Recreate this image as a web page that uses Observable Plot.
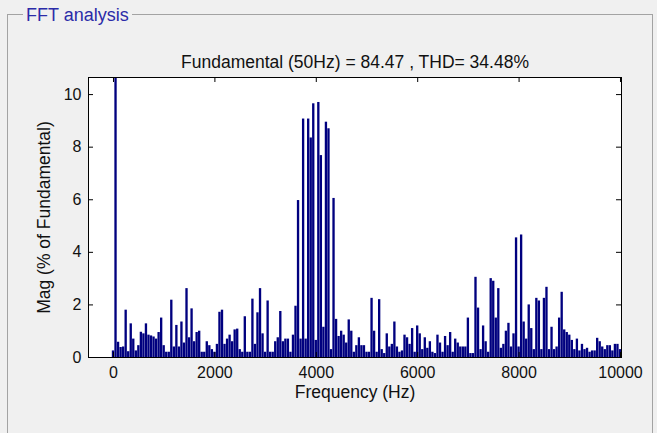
<!DOCTYPE html>
<html><head><meta charset="utf-8">
<script src="https://cdn.jsdelivr.net/npm/d3@7"></script>
<script src="https://cdn.jsdelivr.net/npm/@observablehq/plot@0.6"></script>
<style>
html,body{margin:0;padding:0;background:#f0f0f0;}
#wrap{position:relative;width:657px;height:433px;overflow:hidden;background:#f0f0f0;font-family:"Liberation Sans",Arial,sans-serif;}
#box{position:absolute;left:7px;top:14px;width:646px;height:440px;border:1px solid #a3a3a3;box-sizing:border-box;}
#legend{position:absolute;left:23px;top:5px;padding:0 3px;background:#f0f0f0;color:#2b2ba8;font-size:18px;line-height:20px;}
#chart{position:absolute;left:0;top:0;}
</style></head>
<body><div id="wrap"><div id="box"></div><div id="legend">FFT analysis</div><div id="chart"></div></div>
<script>
// Harmonic spectrum: bins every 50 Hz from 0 Hz to 10000 Hz, magnitude in % of fundamental
const binStepHz = 50;
const magnitudes = [
  0.25, 100, 0.58, 0.38, 0.4, 1.8, 0.22, 1.28, 0.7, 0.25,
  0.45, 0.96, 0.9, 1.28, 0.85, 0.82, 0.78, 0.7, 0.95, 1.5,
  0.45, 0.2, 0.2, 2.18, 0.4, 1.22, 0.4, 1.35, 0.55, 2.62,
  0.75, 1.85, 0.6, 0.95, 1.0, 0.2, 0.2, 0.6, 0.45, 0.3,
  0.2, 0.5, 1.72, 1.8, 0.5, 0.7, 0.85, 0.6, 1.05, 1.08,
  0.3, 0.2, 1.55, 0.2, 0.2, 2.22, 0.5, 1.7, 2.62, 0.9,
  0.2, 2.15, 0.2, 0.2, 0.6, 0.75, 1.75, 0.6, 0.7, 0.7,
  0.2, 0.85, 1.95, 5.97, 0.7, 9.07, 0.7, 9.07, 8.35, 9.65,
  0.65, 9.7, 7.68, 1.15, 8.95, 8.7, 0.3, 6.05, 1.45, 0.8,
  1.0, 0.85, 0.55, 1.43, 1.0, 0.2, 0.45, 0.75, 0.45, 0.45,
  0.2, 0.2, 2.25, 1.0, 0.2, 2.2, 0.3, 0.15, 0.9, 0.4,
  0.5, 1.35, 0.4, 0.2, 0.25, 0.85, 0.75, 0.5, 1.1, 0.2,
  1.2, 0.9, 0.3, 0.75, 0.35, 0.6, 0.2, 0.15, 0.85, 0.55,
  0.2, 0.8, 0.45, 0.95, 0.2, 0.7, 0.55, 0.4, 0.4, 0.4,
  1.5, 0.15, 0.15, 3.05, 1.88, 0.3, 1.2, 0.6, 0.2, 3.0,
  2.9, 1.5, 2.62, 0.35, 0.5, 1.0, 1.3, 0.4, 0.9, 4.55,
  0.4, 4.66, 1.35, 0.7, 2.0, 1.1, 0.3, 2.25, 2.15, 0.3,
  2.25, 2.67, 0.3, 1.15, 0.3, 0.4, 1.5, 2.48, 1.05, 0.95,
  0.85, 0.65, 0.3, 0.7, 0.25, 0.5, 0.3, 0.35, 0.2, 0.25,
  0.25, 0.73, 0.6, 0.4, 0.3, 0.45, 0.45, 0.25, 0.5, 0.5,
  0.3
];
const xTicks = [0, 2000, 4000, 6000, 8000, 10000];
const yTicks = [0, 2, 4, 6, 8, 10];
const titleText = "Fundamental (50Hz) = 84.47 , THD= 34.48%";
const xLabelText = "Frequency (Hz)";
const yLabelText = "Mag (% of Fundamental)";

const rows = magnitudes.map((v, i) => ({f: i * binStepHz, v}));
const halfBar = 23;

const chart = Plot.plot({
  width: 657, height: 433,
  marginLeft: 88, marginRight: 36, marginTop: 77, marginBottom: 76,
  style: {background: "transparent", fontFamily: "'Liberation Sans', Arial, sans-serif", fontSize: "16px", color: "#111"},
  x: {domain: [-493, 10020]},
  y: {domain: [0, 10.65]},
  marks: [
    Plot.frame({fill: "white"}),
    Plot.rectY(rows, {x1: d => d.f - halfBar, x2: d => d.f + halfBar, y1: 0, y2: "v", fill: "#00007f", clip: true}),
    Plot.tickX(xTicks, {x: d => d, insetTop: 275, stroke: "#000"}),
    Plot.tickX(xTicks, {x: d => d, insetBottom: 275, stroke: "#000"}),
    Plot.tickY(yTicks, {y: d => d, insetRight: 528, stroke: "#000"}),
    Plot.tickY(yTicks, {y: d => d, insetLeft: 528, stroke: "#000"}),
    Plot.frame({stroke: "#000"}),
    Plot.axisX(xTicks, {tickSize: 0, tickPadding: 9, label: null, tickFormat: d => String(d)}),
    Plot.axisY(yTicks, {tickSize: 0, tickPadding: 7, label: null, tickFormat: d => String(d)}),
    Plot.text([xLabelText], {frameAnchor: "bottom", dy: 40, text: d => d, fontSize: 17.5}),
    Plot.text([yLabelText], {frameAnchor: "left", dx: -44, rotate: -90, textAnchor: "middle", text: d => d, fontSize: 17.5}),
    Plot.text([titleText], {frameAnchor: "top", dy: -22, text: d => d, fontSize: 17.5})
  ]
});
document.getElementById("chart").appendChild(chart);
</script></body></html>
